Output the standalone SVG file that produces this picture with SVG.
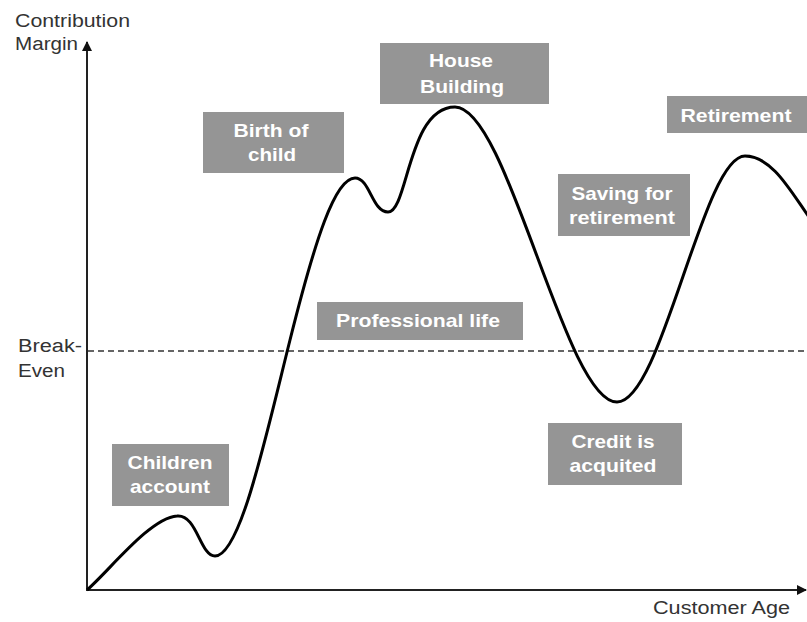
<svg xmlns="http://www.w3.org/2000/svg" width="807" height="622" viewBox="0 0 807 622">
<defs>
<style>
.lbl{font-family:"Liberation Sans",Arial,sans-serif;font-size:18px;fill:#333}
.box rect{fill:#959595}
.box text{font-family:"Liberation Sans",Arial,sans-serif;font-size:19px;font-weight:bold;fill:#fff;text-anchor:middle}
.axis{stroke:#222;stroke-width:2;fill:none}
</style>
<marker id="arr" viewBox="0 0 10 10" refX="9" refY="5" markerWidth="10" markerHeight="10" markerUnits="userSpaceOnUse" orient="auto">
<path d="M0,0 L10,5 L0,10 z" fill="#111"/>
</marker>
</defs>
<rect width="807" height="622" fill="#fff"/>
<g id="connectors">
<line class="axis" x1="87" y1="591" x2="87" y2="42" marker-end="url(#arr)"/>
<line class="axis" x1="86" y1="590" x2="806" y2="590" marker-end="url(#arr)"/>
<line x1="88" y1="351" x2="807" y2="351" stroke="#333" stroke-width="1.5" stroke-dasharray="6 4"/>
<path d="M87,590 C110,570 150,518 177,516 C197,514 200,556 215,556 C240,556 265,440 290,340 C315,240 335,178 355,178 C370,178 372,212 388,212 C408,212 408,107 455,107 C508,107 565,402 617,402 C662,402 703,156 745,156 C775,156 795,200 815,225" fill="none" stroke="#000" stroke-width="3" stroke-linejoin="round"/>
</g>
<g id="axis-labels">
<text class="lbl" x="15" y="27" textLength="115" lengthAdjust="spacingAndGlyphs">Contribution</text>
<text class="lbl" x="15" y="50" textLength="63" lengthAdjust="spacingAndGlyphs">Margin</text>
<text class="lbl" x="18" y="352" textLength="64" lengthAdjust="spacingAndGlyphs">Break-</text>
<text class="lbl" x="18" y="377" textLength="47" lengthAdjust="spacingAndGlyphs">Even</text>
<text class="lbl" x="653" y="614" textLength="137" lengthAdjust="spacingAndGlyphs">Customer Age</text>
</g>
<g id="children-account" class="box">
<rect x="112" y="444" width="117" height="62"/>
<text x="170" y="469" textLength="85" lengthAdjust="spacingAndGlyphs">Children</text>
<text x="170" y="493" textLength="80" lengthAdjust="spacingAndGlyphs">account</text>
</g>
<g id="birth-of-child" class="box">
<rect x="203" y="112" width="141" height="61"/>
<text x="271" y="137" textLength="75" lengthAdjust="spacingAndGlyphs">Birth of</text>
<text x="272" y="161" textLength="48" lengthAdjust="spacingAndGlyphs">child</text>
</g>
<g id="house-building" class="box">
<rect x="380" y="43" width="169" height="61"/>
<text x="461" y="67" textLength="64" lengthAdjust="spacingAndGlyphs">House</text>
<text x="462" y="93" textLength="84" lengthAdjust="spacingAndGlyphs">Building</text>
</g>
<g id="retirement" class="box">
<rect x="667" y="96" width="145" height="37"/>
<text x="736" y="122" textLength="111" lengthAdjust="spacingAndGlyphs">Retirement</text>
</g>
<g id="saving-for-retirement" class="box">
<rect x="558" y="174" width="132" height="62"/>
<text x="622" y="200" textLength="101" lengthAdjust="spacingAndGlyphs">Saving for</text>
<text x="622" y="224" textLength="106" lengthAdjust="spacingAndGlyphs">retirement</text>
</g>
<g id="professional-life" class="box">
<rect x="317" y="302" width="206" height="38"/>
<text x="418" y="327" textLength="164" lengthAdjust="spacingAndGlyphs">Professional life</text>
</g>
<g id="credit-is-acquited" class="box">
<rect x="548" y="423" width="134" height="62"/>
<text x="613" y="448" textLength="83" lengthAdjust="spacingAndGlyphs">Credit is</text>
<text x="613" y="472" textLength="87" lengthAdjust="spacingAndGlyphs">acquited</text>
</g>
</svg>
